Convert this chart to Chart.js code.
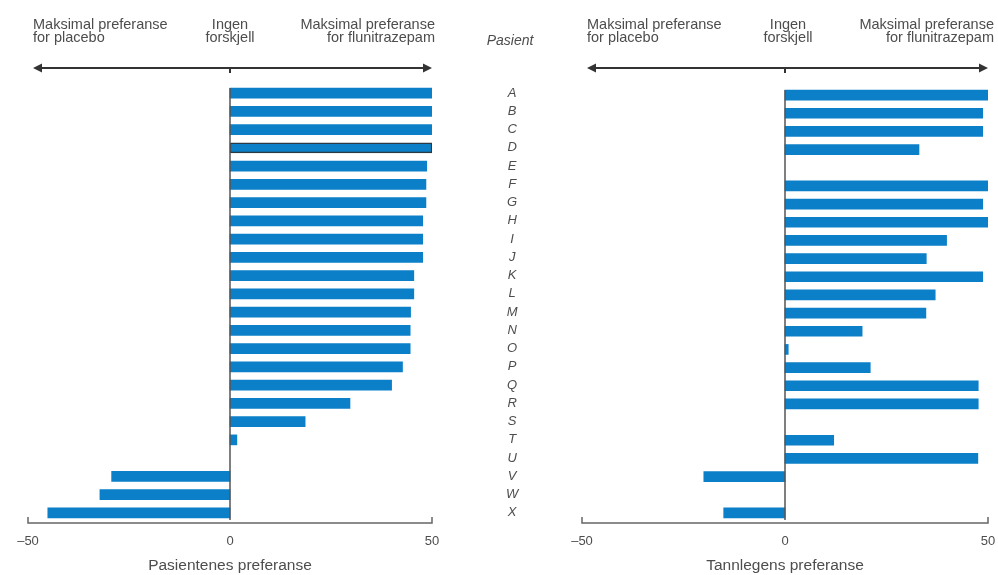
<!DOCTYPE html>
<html>
<head>
<meta charset="utf-8">
<script src="https://cdn.jsdelivr.net/npm/chart.js@4"></script>
<style>
  body { margin: 0; background: #fff; }
  #wrap { position: relative; width: 998px; height: 575px; }
  canvas { position: absolute; top: 0; }
</style>
</head>
<body>
<div id="wrap">
  <canvas id="leftChart" width="600" height="575" style="left:0"></canvas>
  <canvas id="rightChart" width="458" height="575" style="left:540px"></canvas>
</div>
<script>
const patients = ['A','B','C','D','E','F','G','H','I','J','K','L','M','N','O','P','Q','R','S','T','U','V','W','X'];
const patientPref = [50, 50, 50, 50, 48.7, 48.5, 48.5, 47.7, 47.7, 47.7, 45.5, 45.5, 44.7, 44.6, 44.6, 42.7, 40, 29.7, 18.6, 1.7, null, -29.3, -32.2, -45.1];
const dentistPref = [50, 48.7, 48.7, 33, null, 50, 48.7, 50, 39.8, 34.8, 48.7, 37, 34.7, 19, 0.8, 21, 47.6, 47.6, null, 12, 47.5, -20, null, -15.1];
const highlighted = 'D';
const xTicks = [-50, 0, 50];
const headerLeft = ['Maksimal preferanse', 'for placebo'];
const headerMid = ['Ingen', 'forskjell'];
const headerRight = ['Maksimal preferanse', 'for flunitrazepam'];
const patientTitle = 'Pasient';

const FONT = '"Liberation Sans", Arial, sans-serif';
const TEXT = '#4d4d4d';
const BLUE = '#0b7fc8';

// arrows, headers, zero line and the bracket-shaped bottom axis
const decor = {
  id: 'decor',
  afterDatasetsDraw(chart, args, opts) {
    const ctx = chart.ctx;
    const xs = chart.scales.x;
    const area = chart.chartArea;
    const x0 = xs.getPixelForValue(0);
    const xL = xs.getPixelForValue(-50);
    const xR = xs.getPixelForValue(50);
    ctx.save();

    // zero line
    ctx.strokeStyle = '#555';
    ctx.lineWidth = 1.5;
    ctx.beginPath();
    ctx.moveTo(x0, area.top + 4);
    ctx.lineTo(x0, area.bottom - 2);
    ctx.stroke();

    // bottom bracket
    ctx.strokeStyle = '#666';
    ctx.beginPath();
    ctx.moveTo(xL, area.bottom - 5);
    ctx.lineTo(xL, area.bottom + 1);
    ctx.lineTo(xR, area.bottom + 1);
    ctx.lineTo(xR, area.bottom - 5);
    ctx.stroke();

    // double arrow
    const ay = 68, aL = xL + 5, aR = xR;
    ctx.strokeStyle = '#333';
    ctx.fillStyle = '#333';
    ctx.lineWidth = 2;
    ctx.beginPath();
    ctx.moveTo(aL + 6, ay);
    ctx.lineTo(aR - 6, ay);
    ctx.moveTo(x0, ay);
    ctx.lineTo(x0, ay + 5);
    ctx.stroke();
    ctx.beginPath();
    ctx.moveTo(aL, ay); ctx.lineTo(aL + 9, ay - 4.5); ctx.lineTo(aL + 9, ay + 4.5); ctx.closePath();
    ctx.moveTo(aR, ay); ctx.lineTo(aR - 9, ay - 4.5); ctx.lineTo(aR - 9, ay + 4.5); ctx.closePath();
    ctx.fill();

    // header texts
    ctx.fillStyle = TEXT;
    ctx.font = '14.5px ' + FONT;
    ctx.textBaseline = 'alphabetic';
    [29, 42].forEach((y, i) => {
      ctx.textAlign = 'left';
      ctx.fillText(headerLeft[i], aL, y);
      ctx.textAlign = 'center';
      ctx.fillText(headerMid[i], x0 + opts.midShift, y);
      ctx.textAlign = 'right';
      ctx.fillText(headerRight[i], aR + opts.rightShift, y);
    });

    if (opts.showPatient) {
      ctx.font = 'italic 14px ' + FONT;
      ctx.textAlign = 'center';
      ctx.fillText(patientTitle, 510, 45);
    }
    ctx.restore();
  }
};

function makeChart(id, values, title, pad, yOpts, decorOpts) {
  return new Chart(document.getElementById(id), {
    type: 'bar',
    data: {
      labels: patients,
      datasets: [{
        data: values,
        backgroundColor: BLUE,
        borderColor: '#2a3a44',
        borderWidth: (c) => (patients[c.dataIndex] === highlighted && id === 'leftChart') ? 1.5 : 0,
        borderSkipped: false,
        barThickness: 10
      }]
    },
    options: {
      indexAxis: 'y',
      responsive: false,
      animation: false,
      layout: { padding: pad },
      plugins: { legend: { display: false }, tooltip: { enabled: false }, decor: decorOpts },
      scales: {
        x: {
          min: -50,
          max: 50,
          afterBuildTicks: (s) => { s.ticks = xTicks.map((v) => ({ value: v })); },
          afterFit: (s) => { s.height = 53; s.paddingLeft = 0; s.paddingRight = 0; },
          grid: { display: false, drawTicks: false },
          border: { display: false },
          ticks: {
            padding: 12,
            color: TEXT,
            font: { family: FONT, size: 13 },
            callback: (v) => (v < 0 ? '\u2013' + Math.abs(v) : String(v))
          },
          title: {
            display: true,
            text: title,
            color: TEXT,
            padding: { top: 0, bottom: 0 },
            font: { family: FONT, size: 15.5 }
          }
        },
        y: yOpts
      }
    },
    plugins: [decor]
  });
}

makeChart('leftChart', patientPref, 'Pasientenes preferanse',
  { left: 28, right: 8, top: 84, bottom: 0 },
  {
    position: 'right',
    afterFit: (s) => { s.width = 160; s.paddingTop = 0; s.paddingBottom = 0; },
    grid: { display: false, drawTicks: false },
    border: { display: false },
    ticks: {
      autoSkip: false,
      padding: 74,
      crossAlign: 'center',
      color: TEXT,
      font: { family: FONT, size: 13, style: 'italic' }
    }
  },
  { midShift: 0, rightShift: 3, showPatient: true });

makeChart('rightChart', dentistPref, 'Tannlegens preferanse',
  { left: 42, right: 10, top: 86, bottom: 0 },
  { display: false },
  { midShift: 3, rightShift: 6, showPatient: false });
</script>
</body>
</html>
